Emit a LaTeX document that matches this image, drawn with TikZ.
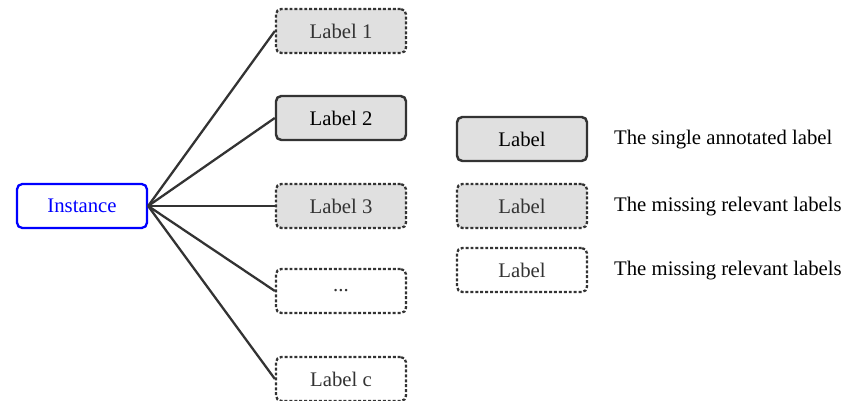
\documentclass[tikz,border=0pt]{standalone}
\usepackage{fontspec}
\setmainfont{Liberation Serif}
\usepackage{xcolor}
\definecolor{boxgray}{RGB}{224,224,224}
\definecolor{edgegray}{RGB}{51,51,51}

\tikzset{
	inst/.style = {draw=blue, text=blue, line width=1.3pt, rounded corners=3pt, minimum width=2.6cm, minimum height=0.88cm},
	annot/.style = {draw=edgegray, fill=boxgray, line width=1.4pt, rounded corners=3pt, minimum width=2.6cm, minimum height=0.88cm},
	missing/.style = {draw=edgegray, fill=boxgray, line width=1.3pt, dash pattern=on 1.7pt off 1.1pt, rounded corners=3pt, minimum width=2.6cm, minimum height=0.88cm, text=black!80},
	other/.style = {missing, fill=white},
	link/.style = {draw=edgegray, line width=1.3pt}
}

\begin{document}
\begin{tikzpicture}[x=0.02cm, y=-0.02cm, font=\fontsize{11.8pt}{13pt}\selectfont]
		\useasboundingbox (0,0) rectangle (860,401);
		\node[inst] (inst) at (82,206) {Instance};
		\node[missing] (lab1) at (341,31) {Label 1};
		\node[annot] (lab2) at (341,118) {Label 2};
		\node[missing] (lab3) at (341,206) {Label 3};
		\node[other] (dots) at (341,291) {...};
		\node[other] (labc) at (341,379) {Label c};
		\foreach \n in {lab1, lab2, lab3, dots, labc}
			\draw[link] (inst.east) -- (\n.west);
		% legend
		\node[annot] (leg1) at (522,139) {Label};
		\node[missing] (leg2) at (522,206) {Label};
		\node[other] (leg3) at (522,270) {Label};
		\node[right] (txt1) at (608,140) {The single annotated label};
		\node[right] (txt2) at (608,207) {The missing relevant labels};
		\node[right] (txt3) at (608,271) {The missing relevant labels};
	\end{tikzpicture}
\end{document}
